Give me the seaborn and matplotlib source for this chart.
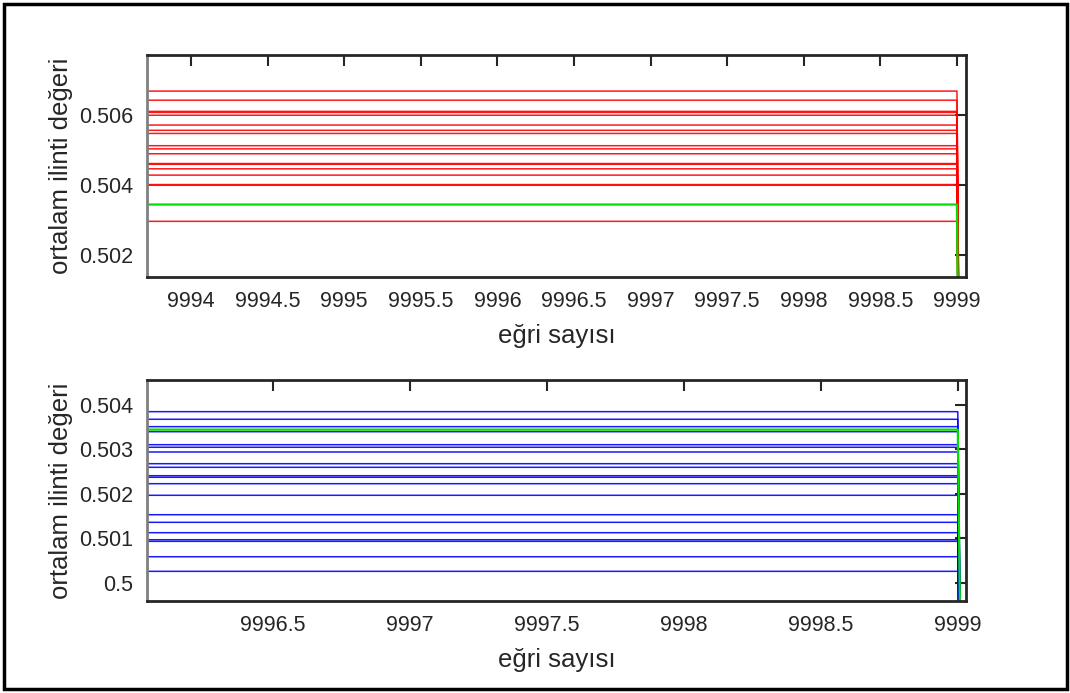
import numpy as np
import pandas as pd
import matplotlib
matplotlib.use("Agg")
import matplotlib.pyplot as plt
from matplotlib.ticker import FuncFormatter
from matplotlib.patches import Rectangle
import seaborn as sns

sns.set_style("white")
plt.rcParams['font.family'] = ['Liberation Sans', 'DejaVu Sans']

# ---- data ----
x_start = 9990
x_last = 9999
x_drop = 10000
drop_value = 0.0

top_red = [0.50668, 0.50642, 0.50610, 0.50607, 0.50599, 0.50571, 0.50556,
           0.50547, 0.50512, 0.50503, 0.50489, 0.50461, 0.50459, 0.50446,
           0.50428, 0.50401, 0.50399, 0.50296]
bottom_blue = [0.503843, 0.503672, 0.503506, 0.503393, 0.503101, 0.503043,
               0.502937, 0.502674, 0.502593, 0.502404, 0.502369, 0.502225,
               0.501964, 0.501528, 0.501357, 0.501124, 0.500966, 0.500930,
               0.500584, 0.500256]
green_value = 0.50344

top_xticks = [9994, 9994.5, 9995, 9995.5, 9996, 9996.5, 9997, 9997.5, 9998, 9998.5, 9999]
top_yticks = [0.502, 0.504, 0.506]
bottom_xticks = [9996.5, 9997, 9997.5, 9998, 9998.5, 9999]
bottom_yticks = [0.5, 0.501, 0.502, 0.503, 0.504]

xlabel = "eğri sayısı"
ylabel = "ortalam ilinti değeri"


def curves_df(values):
    rows = []
    for i, v in enumerate(values):
        rows.append((i, x_start, v))
        rows.append((i, x_last, v))
        rows.append((i, x_drop, drop_value))
    return pd.DataFrame(rows, columns=["curve", "x", "y"])


fig = plt.figure(figsize=(10.7, 6.93), dpi=100)
ax1 = fig.add_axes([0.1374, 0.6003, 0.7654, 0.3203])
ax2 = fig.add_axes([0.1374, 0.1328, 0.7654, 0.3189])

text_c = "#262626"
fmt = FuncFormatter(lambda v, p: f"{v:g}")

for ax, vals, col, xl, yl, xt, yt in [
    (ax1, top_red, "#ff0000", (9993.713, 9999.059), (0.50137, 0.50771), top_xticks, top_yticks),
    (ax2, bottom_blue, "#0000ff", (9996.04, 9999.03), (0.49959, 0.504555), bottom_xticks, bottom_yticks),
]:
    sns.lineplot(data=curves_df(vals), x="x", y="y", units="curve", estimator=None,
                 color=col, lw=1.1, alpha=0.9, ax=ax, legend=False)
    sns.lineplot(data=curves_df([green_value]), x="x", y="y", units="curve", estimator=None,
                 color="#00e000", lw=1.6, ax=ax, legend=False)
    ax.set_xlim(*xl)
    ax.set_ylim(*yl)
    ax.set_xticks(xt)
    ax.set_yticks(yt)
    ax.xaxis.set_major_formatter(fmt)
    ax.yaxis.set_major_formatter(fmt)
    ax.tick_params(direction="in", length=8, width=1.5, top=True, right=True,
                   labelsize=15.5, colors=text_c, pad=10)
    for s in ["top", "right", "bottom"]:
        ax.spines[s].set_color(text_c)
        ax.spines[s].set_linewidth(2)
    ax.spines["left"].set_color("#808080")
    ax.spines["left"].set_linewidth(2)
    ax.set_xlabel(xlabel, fontsize=18.5, color=text_c, labelpad=9)
    ax.set_ylabel(ylabel, fontsize=18.5, color=text_c, labelpad=4)

fig.patches.append(Rectangle((0.004, 0.006), 0.993, 0.988, transform=fig.transFigure,
                             fill=False, edgecolor="black", linewidth=2.5))

fig.savefig("out.png", dpi=100)
